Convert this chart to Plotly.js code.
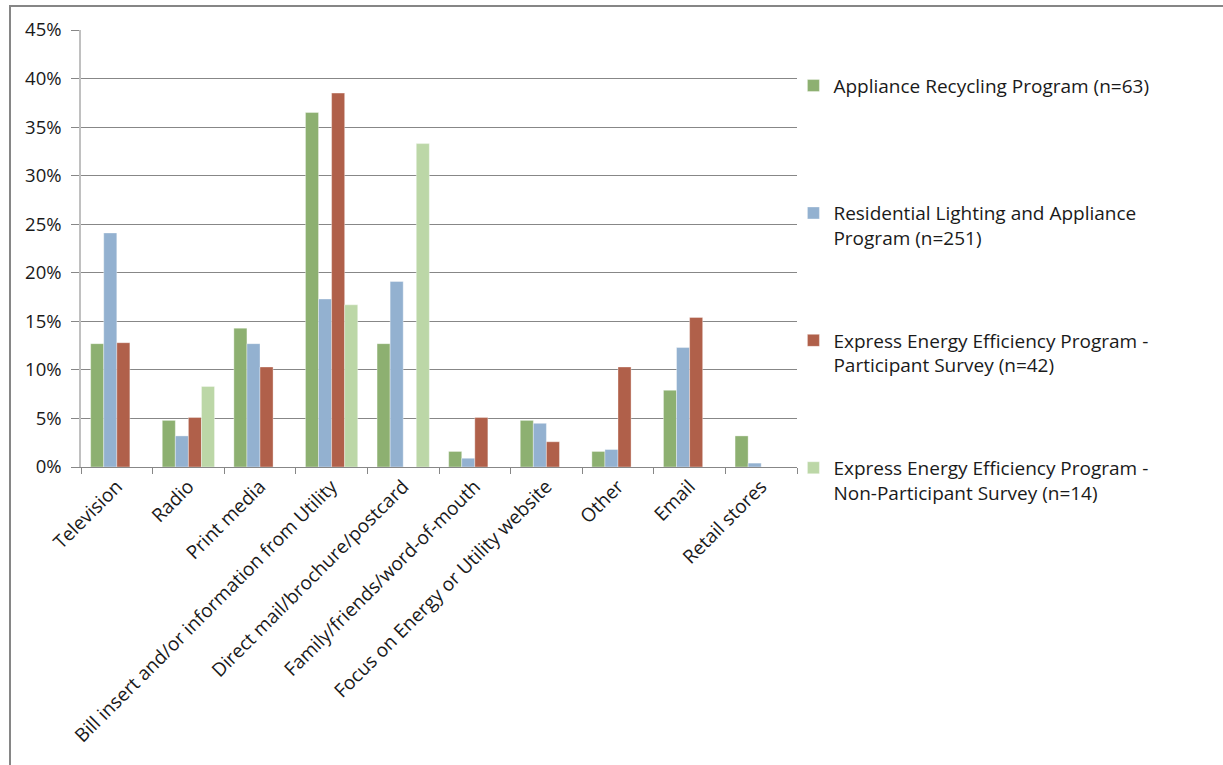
<!DOCTYPE html>
<html>
<head>
<meta charset="utf-8">
<script src="https://cdn.plot.ly/plotly-3.0.1.min.js"></script>
<style>
  html, body { margin: 0; padding: 0; background: #fff; }
  #wrap { position: relative; width: 1223px; height: 765px; overflow: hidden; }
  #frame { position: absolute; left: 9px; top: 5px; width: 1300px; height: 900px;
           border-left: 2px solid #868686; border-top: 2px solid #868686; pointer-events: none; }
  #chart { position: absolute; left: 0; top: 0; width: 1223px; height: 765px; }
</style>
</head>
<body>
<div id="wrap">
  <div id="chart"></div>
  <div id="frame"></div>
</div>
<script>
const categories = [
  "Television", "Radio", "Print media", "Bill insert and/or information from Utility",
  "Direct mail/brochure/postcard", "Family/friends/word-of-mouth",
  "Focus on Energy or Utility website", "Other", "Email", "Retail stores"
];
const seriesNames = [
  "Appliance Recycling Program (n=63)<br> ",
  "Residential Lighting and Appliance<br>Program (n=251)",
  "Express Energy Efficiency Program -<br>Participant Survey (n=42)",
  "Express Energy Efficiency Program -<br>Non-Participant Survey (n=14)"
];
const applianceRecycling = [12.7, 4.8, 14.3, 36.5, 12.7, 1.6, 4.8, 1.6, 7.9, 3.2];
const residentialLighting = [24.1, 3.2, 12.7, 17.3, 19.1, 0.9, 4.5, 1.8, 12.3, 0.4];
const expressParticipant = [12.8, 5.1, 10.3, 38.5, null, 5.1, 2.6, 10.3, 15.4, null];
const expressNonParticipant = [null, 8.3, null, 16.7, 33.3, null, null, null, null, null];
const seriesColors = ["#8DB071", "#93B1D0", "#B0604A", "#BCD7A7"];
const yTickValues = [0, 5, 10, 15, 20, 25, 30, 35, 40, 45];
const yTickLabels = ["0%", "5%", "10%", "15%", "20%", "25%", "30%", "35%", "40%", "45%"];

const allValues = [applianceRecycling, residentialLighting, expressParticipant, expressNonParticipant];
const traces = allValues.map((vals, i) => ({
  type: "bar",
  x: categories,
  y: vals,
  name: seriesNames[i],
  legendgroup: "g" + i,
  marker: { color: seriesColors[i], line: { color: "rgba(255,255,255,0.6)", width: 0.6 } },
  hoverinfo: "x+y+name"
}));

const font = "'Open Sans', 'Liberation Sans', sans-serif";
const layout = {
  width: 1223, height: 765,
  margin: { l: 81, r: 426, t: 30, b: 298 },
  paper_bgcolor: "#ffffff", plot_bgcolor: "#ffffff",
  barmode: "group", bargap: 0.27, bargroupgap: 0,
  font: { family: font, size: 16, color: "#1a1a1a" },
  showlegend: true,
  legend: {
    x: 0.995, xanchor: "left", y: 0.916, yanchor: "top",
    traceorder: "grouped", tracegroupgap: 75, valign: "top",
    font: { family: font, size: 19, color: "#1a1a1a" },
    itemwidth: 30, bgcolor: "rgba(0,0,0,0)", maxheight: 740
  },
  xaxis: {
    type: "category", tickangle: -45,
    showline: true, linecolor: "#878787", linewidth: 1,
    ticks: "outside", tickson: "boundaries", ticklen: 6, tickcolor: "#878787",
    showgrid: false, tickfont: { family: font, size: 19, color: "#1a1a1a" },
    automargin: false
  },
  yaxis: {
    range: [0, 45], tickmode: "array", tickvals: yTickValues, ticktext: yTickLabels,
    showline: true, linecolor: "#c0c0c0", linewidth: 1.5,
    showgrid: true, gridcolor: "#878787", gridwidth: 1,
    zeroline: false, ticks: "outside", ticklen: 8, tickcolor: "#878787",
    ticklabelstandoff: 6,
    tickfont: { family: font, size: 18.5, color: "#1a1a1a" },
    automargin: false
  }
};
Plotly.newPlot("chart", traces, layout, { displayModeBar: false });
</script>
</body>
</html>
